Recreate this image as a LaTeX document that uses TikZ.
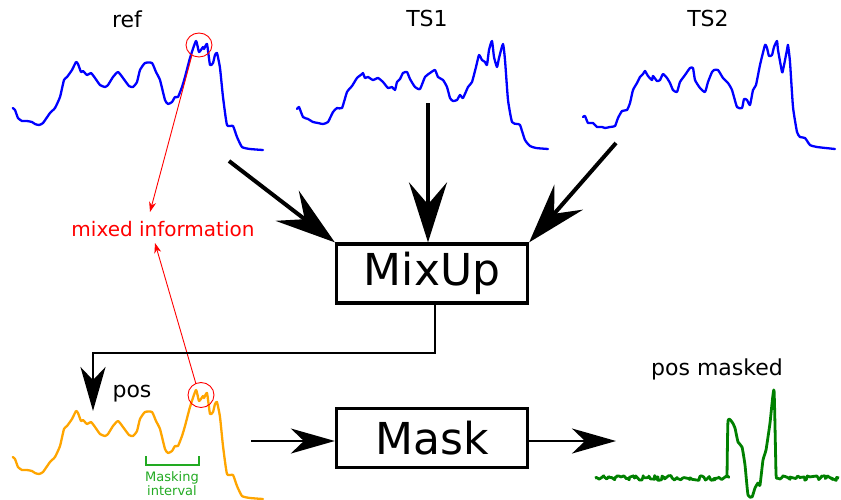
\documentclass[tikz,border=0pt]{standalone}
\usepackage{fontspec}
\setmainfont{DejaVu Sans}
\usetikzlibrary{arrows.meta,decorations.pathmorphing}
\definecolor{sigblue}{RGB}{0,0,255}
\definecolor{sigorange}{RGB}{255,165,0}
\definecolor{siggreen}{RGB}{0,128,0}
\definecolor{maskgreen}{RGB}{34,170,34}
\definecolor{infored}{RGB}{255,0,0}
\tikzset{
  sigline/.style={line width=2.3pt, line join=round, line cap=round},
  refsig/.pic={\draw[sigline] plot[smooth,tension=0.3] coordinates {
    (12.7,108) (15,110) (18,118) (22,121) (27,121) (32,122) (35,124) (39,125) (43,123)
    (50,113) (55,108) (60,97) (64,80) (67,77) (72,70) (76,62) (78,64) (81,72) (83,71)
    (87,75) (91,73) (95,78) (100,85) (105,87) (108,85) (113,77) (118,72) (123,78)
    (129,86) (133,87) (137,82) (140,70) (145,63) (152,63) (156,72) (160,80) (165,100)
    (168,104) (172,102) (175,97) (178,97) (182,87) (185,77) (190,58) (196,41) (199,52)
    (203,47) (204,49) (207,44) (210,65) (213,63) (215,55) (217,53) (220,68) (223,97)
    (227,125) (233,126) (237,137) (242,147) (250,149) (263,150)};},
  boxnode/.style={draw, line width=3.3pt, minimum width=191pt, minimum height=59pt,
    inner sep=0pt, font=\fontsize{44}{50}\selectfont},
  title/.style={font=\fontsize{22}{26}\selectfont, inner sep=0pt},
  bigarrow/.style={line width=4pt, -{Stealth[length=60pt,width=38pt,inset=22pt]}},
  thinarrow/.style={line width=2.2pt, -{Stealth[length=44pt,width=25pt,inset=13pt]}},
  redarrow/.style={infored, line width=0.9pt, -{Stealth[length=10pt,width=7pt,inset=3pt]}},
  redcircle/.style={infored, line width=0.9pt},
  noisy/.style={siggreen, line width=2.8pt, line join=round, decorate,
    decoration={random steps, segment length=1.8pt, amplitude=2.4pt}},
}
\begin{document}
\begin{tikzpicture}[x=1pt,y=-1pt]
\useasboundingbox (0,0) rectangle (841,499);

% signals
\pic[color=sigblue] at (0,0) {refsig};
\pic[color=sigorange] at (0,349) {refsig};

\draw[sigblue, sigline] plot[smooth,tension=0.3] coordinates {
 (297,109) (299,107) (303,117) (308,119) (313,122) (318,123) (323,124) (328,122)
 (333,112) (337,108) (342,108) (347,92) (352,86) (357,78) (362,74) (363,73) (365,78)
 (368,77) (373,80) (378,78) (383,82) (388,88) (392,87) (395,90) (397,82) (400,79)
 (403,73) (407,72) (410,79) (415,87) (420,89) (425,77) (430,73) (435,70) (438,77)
 (443,80) (447,87) (450,98) (453,101) (457,100) (460,95) (463,98) (468,87) (472,82)
 (476,67) (479,55) (482,60) (485,62) (487,65) (489,50) (492,41) (494,57) (497,67)
 (499,58) (503,44) (505,60) (508,100) (512,122) (517,124) (520,125) (525,140)
 (530,146) (536,148) (548,149)};

\draw[sigblue, sigline] plot[smooth,tension=0.3] coordinates {
 (583,117) (585,116) (588,123) (593,123) (597,127) (602,127) (605,128) (610,127)
 (615,126) (618,118) (622,111) (627,110) (630,103) (633,90) (637,83) (640,77) (643,74)
 (645,71) (648,76) (652,80) (653,76) (657,81) (660,80) (663,74) (667,78) (670,83)
 (673,90) (677,92) (680,82) (685,75) (690,68) (693,68) (695,80) (700,88) (705,92)
 (708,82) (712,72) (714,70) (718,70) (723,78) (728,83) (732,90) (737,107) (742,108)
 (744,99) (747,100) (750,105) (753,90) (756,85) (760,65) (765,45) (767,48) (769,56)
 (772,55) (774,47) (777,41) (778,50) (782,72) (783,70) (787,50) (788,45) (790,62)
 (793,107) (797,132) (800,137) (805,138) (810,145) (817,147) (835,149)};

% pos masked
\pgfmathsetseed{7}
\draw[noisy] (595,478) -- (728,478);
\draw[noisy] (777,478) -- (839,478);
\draw[siggreen, line width=2.8pt, line join=round] plot[smooth,tension=0.3] coordinates {
 (727,478) (728,421) (732,422) (735,428) (738,442) (742,447) (745,465) (748,495)
 (752,497) (755,488) (758,483) (760,485) (763,460) (766,450) (770,423) (774,390)
 (776,473) (777,478)};

% labels
\node[title] (ref) at (127,19) {ref};
\node[title] (ts1) at (427,18) {TS1};
\node[title] (ts2) at (708,18) {TS2};
\node[title, anchor=base] (pos) at (132,397) {pos};
\node[title, anchor=base] (posm) at (717,375) {pos masked};
\node[infored, font=\fontsize{20}{24}\selectfont, inner sep=0pt] (mixinfo) at (163,229) {mixed information};
\node[maskgreen, font=\fontsize{13}{15}\selectfont, align=center, inner sep=0pt] (maskint) at (172,484) {Masking\\[-1pt]interval};
\draw[maskgreen, line width=1.3pt] (146,456) -- (146,465) -- (199,465) -- (199,456);

% red circles and arrows
\draw[redcircle] (199,45) ellipse [x radius=13, y radius=12];
\draw[redcircle] (201,395) ellipse [x radius=13, y radius=12.5];
\coordinate (c1) at (192,55);
\coordinate (c2) at (196,384);
\draw[redarrow] (c1) -- (150,212);
\draw[redarrow] (c2) -- (155,243);

% boxes
\node[boxnode] (mix) at (432,273.5) {MixUp};
\node[boxnode] (mask) at (432,438.3) {Mask};

% arrows into MixUp
\coordinate (refout) at (229,161);
\coordinate (ts1out) at (428,103);
\coordinate (ts2out) at (616,143);
\draw[bigarrow] (refout) -- (mix.north west);
\draw[bigarrow] (ts1out) -- (ts1out |- mix.north);
\draw[bigarrow] (ts2out) -- (mix.north east);

% MixUp to pos
\coordinate (posin) at (93,411);
\draw[thinarrow, line join=miter] ([xshift=3pt]mix.south) |- (93,353) -- (posin);

% Mask arrows
\coordinate (maskin) at (251,441);
\coordinate (maskout) at (616,441);
\draw[thinarrow] (maskin) -- (maskin -| mask.west);
\draw[thinarrow] (maskout -| mask.east) -- (maskout);
\end{tikzpicture}
\end{document}
